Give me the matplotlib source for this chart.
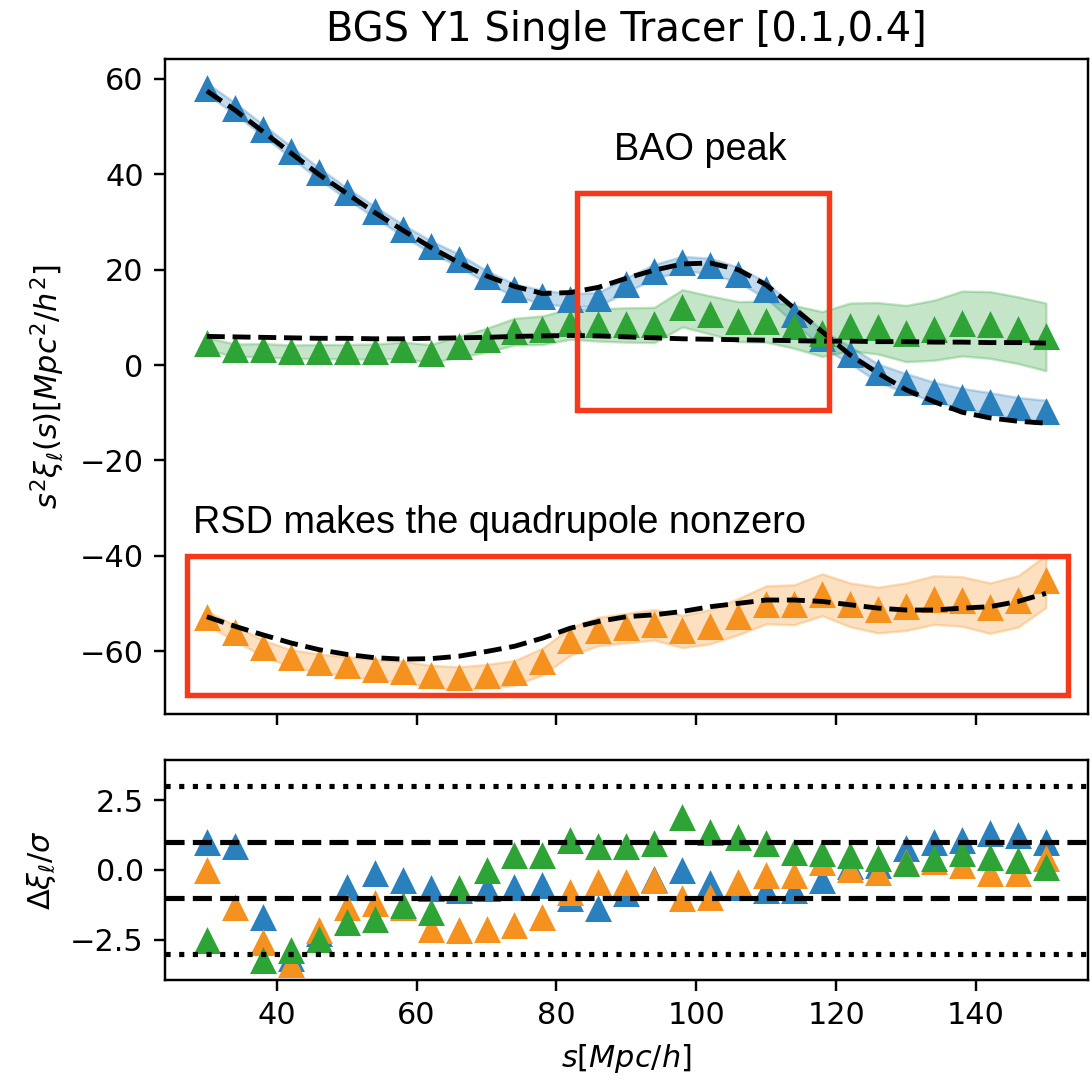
import numpy as np
import matplotlib
matplotlib.use("Agg")
import matplotlib.pyplot as plt
from matplotlib.patches import Rectangle

# separation bins [Mpc/h]
s = [30, 34, 38, 42, 46, 50, 54, 58, 62, 66, 70, 74, 78, 82, 86, 90,
     94, 98, 102, 106, 110, 114, 118, 122, 126, 130, 134, 138, 142, 146, 150]

# measured multipoles s^2 xi_l(s)
mono = [58.0, 53.8, 49.3, 44.7, 40.2, 36.0, 32.1, 28.3, 24.8, 22.0, 18.5,
        15.7, 14.3, 13.6, 13.8, 16.8, 19.6, 21.3, 20.8, 18.9, 15.7, 10.5,
        5.5, 2.1, -1.7, -3.8, -5.6, -7.0, -8.0, -9.1, -9.8]
quad = [-53.1, -56.2, -59.4, -61.5, -62.5, -63.2, -63.9, -64.3, -65.3, -65.7,
        -65.3, -64.6, -62.2, -58.0, -55.9, -55.2, -54.5, -55.9, -54.9, -52.8,
        -50.3, -50.3, -48.2, -50.3, -51.4, -50.7, -49.3, -49.6, -51.0, -49.6,
        -45.4]
hexa = [4.5, 3.1, 3.1, 2.8, 2.8, 2.8, 2.8, 3.1, 2.4, 3.8, 5.2, 7.0, 7.3, 8.6,
        8.4, 8.4, 8.4, 11.9, 10.5, 9.1, 9.1, 8.0, 6.5, 8.0, 7.7, 6.6, 7.3, 8.7,
        8.4, 7.3, 5.9]

# 1-sigma errors
err_mono = [1.2, 1.2, 1.2, 1.2, 1.2, 1.2, 1.2, 1.2, 1.3, 1.3, 1.3, 1.3, 1.4,
            1.4, 1.4, 1.5, 1.5, 1.5, 1.6, 1.6, 1.7, 1.7, 1.8, 1.8, 1.9, 2.0,
            2.0, 2.1, 2.2, 2.3, 2.4]
err_quad = [1.5, 1.6, 1.7, 1.8, 1.9, 2.0, 2.1, 2.2, 2.3, 2.4, 2.5, 2.6, 2.8,
            2.9, 3.0, 3.1, 3.2, 3.4, 3.6, 3.8, 4.0, 4.2, 4.4, 4.6, 4.8, 5.0,
            5.1, 5.2, 5.3, 5.4, 5.5]
err_hexa = [1.3, 1.3, 1.4, 1.4, 1.5, 1.5, 1.6, 1.7, 1.9, 2.2, 2.5, 2.8, 3.0,
            3.2, 3.4, 3.6, 3.7, 3.9, 4.0, 4.2, 4.3, 4.5, 4.7, 5.0, 5.4, 5.9,
            6.3, 6.8, 7.0, 7.0, 7.1]

# best-fit model
model_mono = [57.5, 53.5, 49.0, 44.5, 40.0, 36.0, 32.0, 28.3, 24.7, 21.5, 18.7,
              16.5, 15.0, 15.2, 16.3, 18.2, 19.9, 21.2, 21.4, 20.0, 16.8, 11.9,
              7.0, 2.1, -1.7, -5.2, -7.7, -9.9, -11.1, -11.8, -12.2]
model_quad = [-52.8, -54.8, -56.6, -58.3, -59.7, -60.7, -61.4, -61.7, -61.6,
              -61.1, -60.1, -59.0, -57.3, -55.2, -53.8, -52.8, -52.4, -51.7,
              -50.7, -50.0, -49.3, -49.3, -49.6, -50.3, -51.0, -51.4, -51.4,
              -51.0, -50.7, -49.6, -47.9]
model_hexa = [6.0, 5.9, 5.8, 5.7, 5.6, 5.6, 5.5, 5.5, 5.6, 5.7, 5.8, 6.0, 6.1,
              6.2, 6.1, 5.9, 5.7, 5.5, 5.4, 5.3, 5.2, 5.1, 5.0, 5.0, 4.9, 4.9,
              4.8, 4.8, 4.7, 4.7, 4.6]

# normalised residuals (data - model) / sigma
res_mono = [0.95, 0.83, -1.72, -3.2, -2.3, -0.64, -0.16, -0.38, -0.70, -0.75,
            -0.70, -0.64, -0.58, -1.06, -1.42, -0.85, -0.36, -0.04, -0.52,
            -0.65, -0.76, -0.76, -0.40, 0.10, 0.14, 0.74, 0.98, 1.04, 1.28,
            1.22, 0.95]
res_quad = [-0.04, -1.36, -2.62, -3.40, -2.20, -1.36, -1.24, -1.35, -2.14,
            -2.20, -2.14, -2.02, -1.72, -0.82, -0.46, -0.46, -0.40, -1.06,
            -1.00, -0.46, -0.22, -0.22, 0.26, 0.00, -0.10, 0.25, 0.30, 0.14,
            -0.16, -0.16, 0.40]
res_hexa = [-2.56, np.nan, -3.28, -2.92, -2.50, -1.90, -1.78, -1.30, -1.54,
            -0.70, -0.04, 0.50, 0.50, 1.04, 0.82, 0.82, 0.92, 1.88, 1.34, 1.16,
            0.92, 0.62, 0.56, 0.50, 0.38, 0.20, 0.38, 0.56, 0.44, 0.32, 0.08]

colors = ["#2a80bd", "#f5911e", "#2ea336"]
box_color = "#f5391a"

fig = plt.figure(figsize=(5, 5), dpi=218.4)
ax = fig.add_axes([0.151, 0.3462, 0.8452, 0.5998])
axr = fig.add_axes([0.151, 0.1026, 0.8452, 0.2015], sharex=ax)

x = np.array(s)
series = [(mono, err_mono, model_mono),
          (quad, err_quad, model_quad),
          (hexa, err_hexa, model_hexa)]
for (d, e, m), c in zip(series, colors):
    d = np.array(d)
    e = np.array(e)
    ax.fill_between(x, d - e, d + e, color=c, alpha=0.28, lw=0.8)
    ax.plot(x, d, "^", color=c, ms=7.2, mec=c, ls="none")
for (d, e, m), c in zip(series, colors):
    ax.plot(x, m, "--", color="k", lw=1.6)

ax.add_patch(Rectangle((83, -9.4), 119 - 83, 36.1 + 9.4, fill=False,
                       ec=box_color, lw=1.8, zorder=5))
ax.add_patch(Rectangle((27.1, -69.2), 153.2 - 27.1, 69.2 - 40.0, fill=False,
                       ec=box_color, lw=1.8, zorder=5))
ax.text(100.6, 45, "BAO peak", fontsize=12.5, family="Liberation Sans",
        ha="center", va="center")
ax.text(28.0, -33.2, "RSD makes the quadrupole nonzero", fontsize=12.5,
        family="Liberation Sans", ha="left", va="center")

ax.set_ylim(-73.2, 64.2)
ax.set_yticks([-60, -40, -20, 0, 20, 40, 60])
ax.set_ylabel(r"$s^2\xi_\ell(s)[Mpc^2/h^2]$")
ax.set_title("BGS Y1 Single Tracer [0.1,0.4]", fontsize=13.2)
ax.tick_params(labelbottom=False)

for r, c in zip([res_mono, res_quad, res_hexa], colors):
    axr.plot(x, r, "^", color=c, ms=7.2, ls="none")
for yv in (1, -1):
    axr.axhline(yv, color="k", ls="--", lw=1.7)
for yv in (3, -3):
    axr.axhline(yv, color="k", ls=":", lw=1.7)
axr.set_ylim(-3.95, 3.95)
axr.set_yticks([-2.5, 0.0, 2.5])
axr.set_xlim(24, 156)
axr.set_xticks([40, 60, 80, 100, 120, 140])
axr.set_ylabel(r"$\Delta\xi_\ell/\sigma$")
axr.set_xlabel(r"$s[Mpc/h]$")

fig.savefig("out.png", dpi=218.4)
